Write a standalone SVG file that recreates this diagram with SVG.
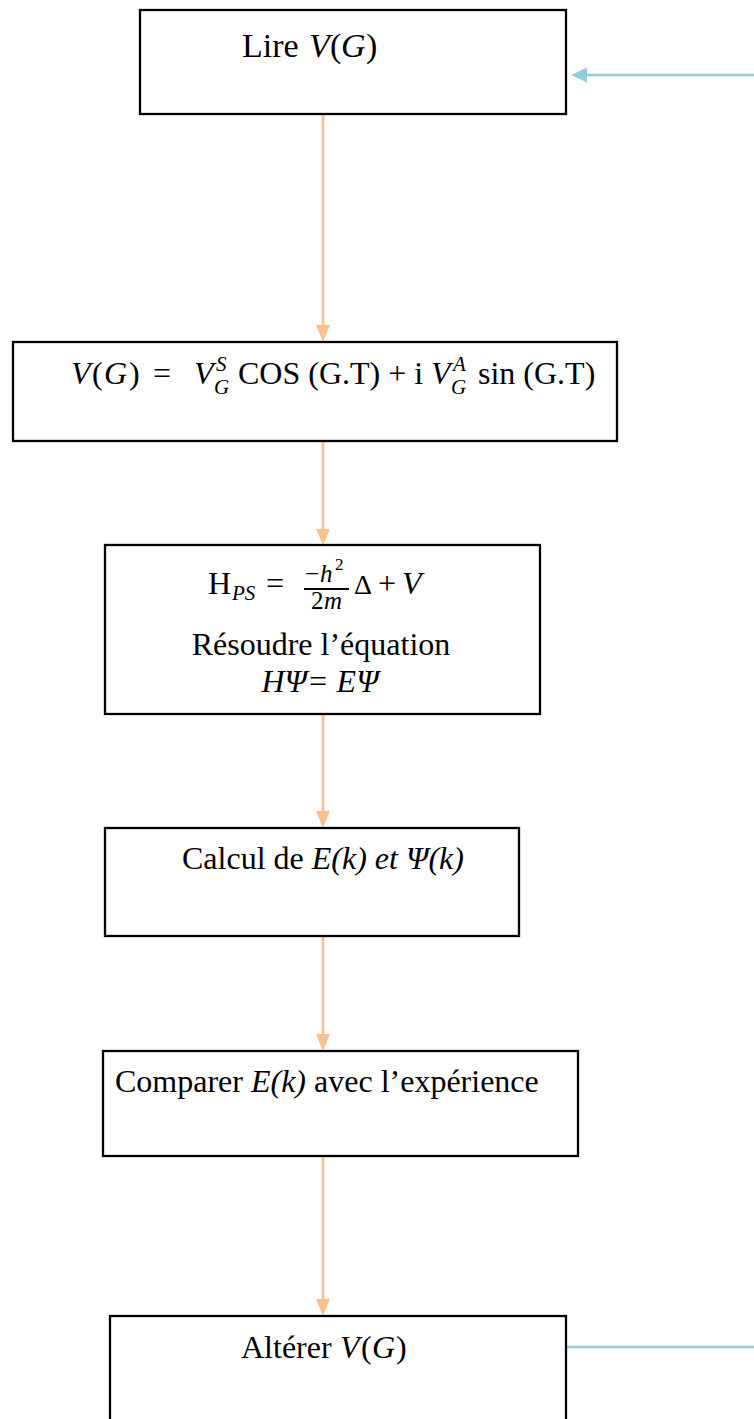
<svg xmlns="http://www.w3.org/2000/svg" width="754" height="1419" viewBox="0 0 754 1419">
  <style>
    .box { fill: #ffffff; stroke: #000000; stroke-width: 2.3; }
    .t { font-family: "Liberation Serif", "Times New Roman", serif; font-size: 32px; fill: #000000; }
    .i { font-style: italic; }
    .m { font-family: "Liberation Serif", "Times New Roman", serif; font-style: italic; font-size: 32px; fill: #000000; }
    .s { font-size: 21px; }
    .f { font-size: 25px; }
    .sup { font-size: 17px; }
    .lg { font-size: 34px; }
    .d { font-size: 28px; }
    .or { stroke: #FAC090; stroke-width: 2.7; fill: none; }
    .bl { stroke: #92CDDC; stroke-width: 2.7; fill: none; }
    .oh { fill: #FAC090; }
    .bh { fill: #92CDDC; }
  </style>

  <g id="connectors">
    <path class="or" d="M323,115 L323,326"/>
    <path class="oh" d="M316,325 L330,325 L323,342 Z"/>
    <path class="or" d="M323,442 L323,530"/>
    <path class="oh" d="M316,529 L330,529 L323,545 Z"/>
    <path class="or" d="M323,714 L323,812"/>
    <path class="oh" d="M316,811 L330,811 L323,828 Z"/>
    <path class="or" d="M323,937 L323,1035"/>
    <path class="oh" d="M316,1034 L330,1034 L323,1051 Z"/>
    <path class="or" d="M323,1157 L323,1300"/>
    <path class="oh" d="M316,1299 L330,1299 L323,1316 Z"/>
    <path class="bl" d="M754,75 L584,75"/>
    <path class="bh" d="M571,75 L587,67.5 L587,82.5 Z"/>
    <path class="bl" d="M567,1347 L754,1347"/>
  </g>

  <g id="node-lire">
    <rect class="box" x="140" y="10" width="426" height="104"/>
    <text class="t lg" x="242" y="57">Lire</text>
    <text class="m lg" x="309" y="57">V</text>
    <text class="t lg" x="330" y="57">(</text>
    <text class="m lg" x="341" y="57">G</text>
    <text class="t lg" x="366" y="57">)</text>
  </g>

  <g id="node-potentiel">
    <rect class="box" x="13" y="342" width="604" height="99"/>
    <text class="m" x="71" y="384">V</text>
    <text class="t" x="92" y="384">(</text>
    <text class="m" x="104" y="384">G</text>
    <text class="t" x="129" y="384">)</text>
    <text class="t" x="153" y="384">=</text>
    <text class="m" x="194" y="384">V</text>
    <text class="m s" x="216" y="371">S</text>
    <text class="m s" x="214" y="394">G</text>
    <text class="t" x="238" y="384">COS (G.T) + i</text>
    <text class="m" x="431" y="384">V</text>
    <text class="m s" x="453" y="371">A</text>
    <text class="m s" x="451" y="394">G</text>
    <text class="t" x="478" y="384">sin (G.T)</text>
  </g>

  <g id="node-hamiltonien">
    <rect class="box" x="105" y="545" width="435" height="169"/>
    <text class="t" x="208" y="594">H</text>
    <text class="m s" x="232" y="600">PS</text>
    <text class="t" x="266" y="594">=</text>
    <text class="t f" x="305" y="582">−</text>
    <text class="m f" x="320" y="582">h</text>
    <text class="t sup" x="335" y="570">2</text>
    <line x1="304" y1="589" x2="349" y2="589" stroke="#000" stroke-width="1.8"/>
    <text class="t f" x="311" y="609">2</text>
    <text class="m f" x="324" y="609">m</text>
    <text class="t d" x="354" y="594">Δ</text>
    <text class="t" x="378" y="594">+</text>
    <text class="m" x="402" y="594">V</text>
    <text class="t" x="321" y="655" text-anchor="middle">Résoudre l’équation</text>
    <text class="t i" x="320" y="692" text-anchor="middle">HΨ= EΨ</text>
  </g>

  <g id="node-calcul">
    <rect class="box" x="105" y="828" width="414" height="108"/>
    <text class="t" x="182" y="869">Calcul de <tspan class="i">E(k) et Ψ(k)</tspan></text>
  </g>

  <g id="node-comparer">
    <rect class="box" x="103" y="1051" width="475" height="105"/>
    <text class="t" x="115" y="1092">Comparer <tspan class="i">E(k)</tspan> avec l’expérience</text>
  </g>

  <g id="node-alterer">
    <rect class="box" x="110" y="1316" width="456" height="110"/>
    <text class="t" x="241" y="1358">Altérer</text>
    <text class="m" x="340" y="1358">V</text>
    <text class="t" x="361" y="1358">(</text>
    <text class="m" x="372" y="1358">G</text>
    <text class="t" x="396" y="1358">)</text>
  </g>
</svg>
